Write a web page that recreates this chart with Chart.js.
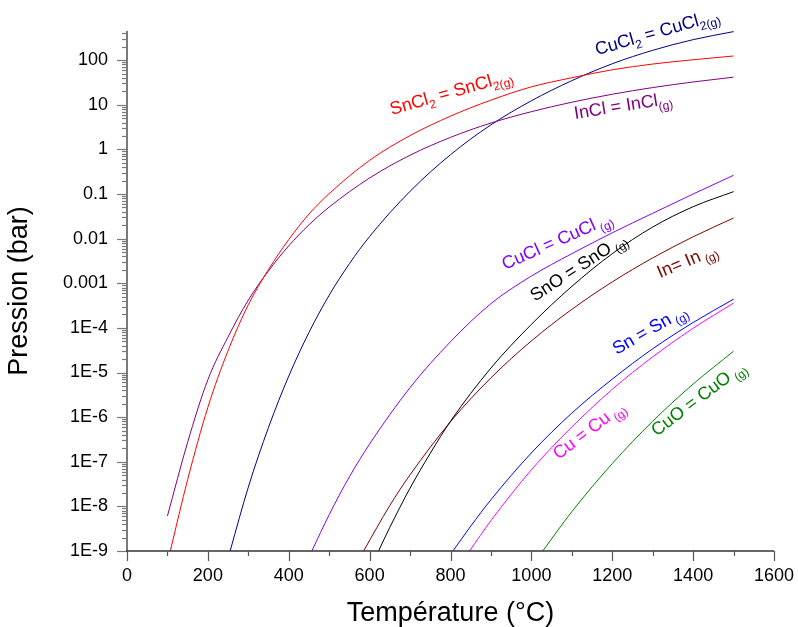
<!DOCTYPE html>
<html><head><meta charset="utf-8">
<script src="https://cdn.jsdelivr.net/npm/chart.js@4.4.1/dist/chart.umd.min.js"></script>
<style>html,body{margin:0;padding:0;background:#fff}canvas{display:block}</style>
</head><body>
<canvas id="c" width="798" height="627"></canvas>
<script>
// ---- data (temperature in °C, pressure in bar) ----
const snCl2T = [107, 150, 200, 250, 300, 350, 400, 450, 500, 600, 700, 800, 900, 1000, 1100, 1200, 1300, 1400, 1500];
const snCl2P = [1e-9, 4.0e-8, 1.66e-6, 3.1e-5, 3.3e-4, 2.04e-3, 9.5e-3, 3.55e-2, 0.102, 0.57, 2.04, 5.56, 12.7, 25.2, 40.4, 60.8, 81.8, 102, 124];

const inClT = [100, 150, 200, 250, 300, 350, 400, 450, 500, 600, 700, 800, 900, 1000, 1100, 1200, 1300, 1400, 1500];
const inClP = [6.1e-9, 2.75e-7, 6.9e-6, 6.3e-5, 4.2e-4, 1.9e-3, 6.9e-3, 2.04e-2, 5.1e-2, 0.229, 0.74, 1.86, 3.9, 7.0, 11.4, 17.2, 24.3, 32.4, 41.6];

const cuCl2T = [255, 300, 350, 400, 450, 500, 550, 600, 700, 800, 900, 1000, 1100, 1200, 1300, 1400, 1500];
const cuCl2P = [1e-9, 2.7e-8, 5.9e-7, 8.3e-6, 7.9e-5, 5.4e-4, 2.75e-3, 1.12e-2, 0.115, 0.76, 3.55, 12.3, 34.7, 83, 166, 288, 436];

const cuClT = [457, 500, 550, 600, 700, 800, 900, 1000, 1100, 1200, 1300, 1400, 1500];
const cuClP = [1e-9, 6.5e-9, 4.6e-8, 2.5e-7, 4.6e-6, 4.9e-5, 3.5e-4, 1.45e-3, 4.6e-3, 1.35e-2, 3.7e-2, 0.10, 0.263];

const snOT = [622, 650, 700, 750, 800, 900, 1000, 1100, 1200, 1300, 1400, 1500];
const snOP = [1e-9, 3.4e-9, 2.57e-8, 1.55e-7, 8.1e-7, 1.26e-5, 1.2e-4, 8.5e-4, 4.6e-3, 1.82e-2, 5.2e-2, 0.113];

const inT = [585, 650, 700, 800, 900, 1000, 1100, 1200, 1300, 1400, 1500];
const inP = [1e-9, 1.05e-8, 5.1e-8, 7.9e-7, 7.6e-6, 5.1e-5, 2.6e-4, 1.07e-3, 3.7e-3, 1.1e-2, 2.9e-2];

const snT = [806, 850, 900, 1000, 1100, 1200, 1300, 1400, 1500];
const snP = [1e-9, 3.6e-9, 1.41e-8, 1.58e-7, 1.23e-6, 7.1e-6, 3.4e-5, 1.32e-4, 4.4e-4];

const cuT = [847, 900, 1000, 1100, 1200, 1300, 1400, 1500];
const cuP = [1e-9, 4.8e-9, 6.6e-8, 6.0e-7, 4.2e-6, 2.24e-5, 9.8e-5, 3.6e-4];

const cuOT = [1028, 1100, 1200, 1300, 1400, 1500];
const cuOP = [1e-9, 7.6e-9, 9.1e-8, 8.1e-7, 5.5e-6, 3.0e-5];

const xTickValues = [0, 200, 400, 600, 800, 1000, 1200, 1400, 1600];
const yDecades = [-9, -8, -7, -6, -5, -4, -3, -2, -1, 0, 1, 2];
const yTickLabels = ['1E-9', '1E-8', '1E-7', '1E-6', '1E-5', '1E-4', '0.001', '0.01', '0.1', '1', '10', '100'];

// curve labels: parts [text, isSubscript], anchored at (T, P)
const curveLabels = [
  { parts: [['SnCl', 0], ['2', 1], [' = SnCl', 0], ['2(g)', 1]], t: 655, p: 5.9, rot: -16, color: '#FF0000' },
  { parts: [['CuCl', 0], ['2', 1], [' = CuCl', 0], ['2(g)', 1]], t: 1162, p: 129, rot: -16, color: '#000080' },
  { parts: [['InCl = InCl', 0], ['(g)', 1]], t: 1108, p: 4.8, rot: -9, color: '#800080' },
  { parts: [['CuCl = CuCl', 0], [' (g)', 1]], t: 935, p: 1.97e-3, rot: -24, color: '#8000FF' },
  { parts: [['SnO = SnO', 0], [' (g)', 1]], t: 1009, p: 3.85e-4, rot: -33, color: '#000000' },
  { parts: [['In= In', 0], [' (g)', 1]], t: 1318, p: 1.29e-3, rot: -23, color: '#800000' },
  { parts: [['Sn = Sn', 0], [' (g)', 1]], t: 1211, p: 2.46e-5, rot: -30, color: '#0000FF' },
  { parts: [['Cu = Cu', 0], [' (g)', 1]], t: 1067, p: 1.09e-7, rot: -37, color: '#FF00FF' },
  { parts: [['CuO = CuO', 0], [' (g)', 1]], t: 1310, p: 3.64e-7, rot: -37, color: '#008000' }
];

const FONT = "'Liberation Sans', Arial, sans-serif";
const toXY = (ts, ps) => ts.map((t, i) => ({ x: t, y: ps[i] }));
const ds = (ts, ps, color) => ({
  data: toXY(ts, ps), borderColor: color, borderWidth: 1, pointRadius: 0,
  cubicInterpolationMode: 'monotone', fill: false
});

const axesPlugin = {
  id: 'axesPlugin',
  afterDraw(chart) {
    const ctx = chart.ctx, xs = chart.scales.x, ys = chart.scales.y, a = chart.chartArea;
    ctx.save();
    // y axis
    ctx.strokeStyle = '#7a7a7a'; ctx.lineWidth = 2;
    ctx.beginPath(); ctx.moveTo(a.left, a.top); ctx.lineTo(a.left, a.bottom); ctx.stroke();
    ctx.lineWidth = 1.2;
    yDecades.forEach(k => {
      for (let m = 1; m <= 9; m++) {
        const v = m * Math.pow(10, k);
        if (v > ys.max * 1.0001) break;
        const py = Math.round(ys.getPixelForValue(v)) + 0.5;
        const len = m === 1 ? 10 : 5;
        ctx.beginPath(); ctx.moveTo(a.left - len, py); ctx.lineTo(a.left, py); ctx.stroke();
      }
    });
    // x axis
    ctx.strokeStyle = '#333'; ctx.lineWidth = 1.5;
    ctx.beginPath(); ctx.moveTo(a.left - 1, a.bottom); ctx.lineTo(xs.getPixelForValue(1600), a.bottom); ctx.stroke();
    ctx.lineWidth = 1.2; ctx.strokeStyle = '#555';
    for (let v = 0; v <= 1600; v += 100) {
      const px = Math.round(xs.getPixelForValue(v)) + 0.5;
      const len = v % 200 === 0 ? 10 : 5;
      ctx.beginPath(); ctx.moveTo(px, a.bottom); ctx.lineTo(px, a.bottom + len); ctx.stroke();
    }
    // curve labels
    curveLabels.forEach(L => {
      const px = xs.getPixelForValue(L.t), py = ys.getPixelForValue(L.p);
      ctx.save();
      ctx.translate(px, py); ctx.rotate(L.rot * Math.PI / 180);
      ctx.fillStyle = L.color; ctx.textBaseline = 'alphabetic'; ctx.textAlign = 'left';
      let cx = 0;
      L.parts.forEach(([txt, sub]) => {
        ctx.font = (sub ? '12px ' : '18px ') + FONT;
        ctx.fillText(txt, cx, sub ? 5 : 0);
        cx += ctx.measureText(txt).width;
      });
      ctx.restore();
    });
    ctx.restore();
  }
};

new Chart(document.getElementById('c'), {
  type: 'line',
  data: {
    datasets: [
      ds(snCl2T, snCl2P, '#FF0000'),
      ds(inClT, inClP, '#800080'),
      ds(cuCl2T, cuCl2P, '#000080'),
      ds(cuClT, cuClP, '#8000FF'),
      ds(snOT, snOP, '#000000'),
      ds(inT, inP, '#800000'),
      ds(snT, snP, '#0000FF'),
      ds(cuT, cuP, '#FF00FF'),
      ds(cuOT, cuOP, '#008000')
    ]
  },
  options: {
    responsive: false, animation: false,
    layout: { padding: { top: 31, right: 24, left: 0, bottom: 0 } },
    plugins: { legend: { display: false }, tooltip: { enabled: false } },
    scales: {
      x: {
        type: 'linear', min: 0, max: 1600,
        grid: { display: false, drawTicks: false }, border: { display: false },
        afterBuildTicks: s => { s.ticks = xTickValues.map(v => ({ value: v })); },
        afterFit: s => { s.height = 76; s.paddingLeft = 0; s.paddingRight = 0; },
        ticks: { padding: 14, color: '#000', font: { size: 18, family: FONT }, maxRotation: 0, callback: v => String(v) },
        title: { display: true, text: 'Température (°C)', color: '#000', font: { size: 27, family: FONT, lineHeight: 1.0 }, padding: { top: 0, bottom: 0 } }
      },
      y: {
        type: 'logarithmic', min: 1e-9, max: 450,
        grid: { display: false, drawTicks: false }, border: { display: false },
        afterBuildTicks: s => { s.ticks = yDecades.map(k => ({ value: Math.pow(10, k) })); },
        afterFit: s => { s.width = 127; s.paddingTop = 0; s.paddingBottom = 0; },
        ticks: {
          padding: 19, color: '#000', font: { size: 18, family: FONT },
          callback: v => { const k = Math.round(Math.log10(v)); return yTickLabels[yDecades.indexOf(k)]; }
        },
        title: { display: true, text: 'Pression (bar)', color: '#000', font: { size: 27, family: FONT, lineHeight: 1.0 }, padding: { top: 6, bottom: 0 } }
      }
    }
  },
  plugins: [axesPlugin]
});
</script>
</body></html>
